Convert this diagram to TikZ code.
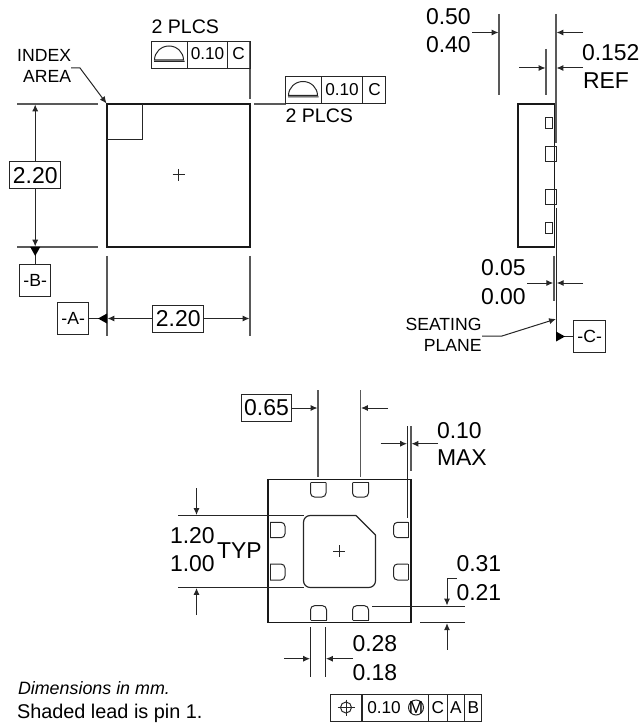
\documentclass[tikz,border=0pt]{standalone}
\usepackage{fontspec}
\setmainfont{Liberation Sans}
\usetikzlibrary{arrows.meta}
\newcommand{\fa}{\fontsize{17.2}{20}\selectfont}
\newcommand{\fb}{\fontsize{14.7}{18}\selectfont}
\newcommand{\fc}{\fontsize{13.2}{16}\selectfont}
\newcommand{\fd}{\fontsize{12.9}{16}\selectfont}
\newcommand{\fe}{\fontsize{14.9}{18}\selectfont}
\newcommand{\ff}{\fontsize{13.4}{16}\selectfont}
\tikzset{
  ln/.style={line width=0.75pt,draw=black!85},
  ext/.style={line width=0.9pt,draw=black!65},
  body/.style={line width=1.1pt,draw=black!90},
  thin/.style={line width=0.75pt,draw=black!85},
  dim/.style={line width=0.75pt,draw=black!85,-{Latex[length=5.2pt,width=4.6pt]}},
  datum/.style={fill=black,draw=none},
  tw/.style={inner sep=0pt,outer sep=0pt,anchor=base west,font=\fa},
  te/.style={inner sep=0pt,outer sep=0pt,anchor=base east,font=\fa},
  cell/.style={draw=black!85,line width=0.75pt,inner sep=0pt,outer sep=0pt,anchor=north west,align=center},
  framebox/.style={draw=black!85,line width=0.75pt,inner sep=0pt,outer sep=0pt},
}
\begin{document}
\begin{tikzpicture}[x=0.75pt,y=-0.75pt]
\useasboundingbox (0,0) rectangle (639,723);
% ---- top view
\draw[body] (107,104) rectangle (250,247);
\draw[ln,line width=0.9pt] (107,139.5) -- (142.5,139.5) -- (142.5,104);
\draw[thin] (172.5,175) -- (184.5,175) (178.5,169) -- (178.5,181);
% ext lines
\draw[ext] (17,104) -- (98,104);
\draw[ext] (17,247) -- (98,247);
\draw[ext] (107,256) -- (107,336);
\draw[ext] (250,256) -- (250,336);
\draw[ext] (250,41.5) -- (250,99);
\draw[ext] (254,104) -- (285.5,104);
% index
\node[te,font=\fc] (idx1) at (71,62) {INDEX};
\node[te,font=\fc] (idx2) at (71,83) {AREA};
\coordinate (idxa) at (71,68);
\coordinate (idxb) at (80,68);
\coordinate (idxc) at (106.5,103.5);
\draw[dim] (idxa) -- (idxb) -- (idxc);
% flatness frame 1
\node[tw,font=\fb] (pl1) at (151.5,34) {2 PLCS};
\node[cell,minimum width=27pt,minimum height=20.25pt] (f1a) at (151.5,41.5) {};
\node[cell,minimum width=30pt,minimum height=20.25pt] (f1b) at (187.5,41.5) {};
\node[cell,minimum width=16.9pt,minimum height=20.25pt] (f1c) at (227.5,41.5) {};
\node[font=\fd,inner sep=0pt] (f1t) at (207.5,54) {0.10};
\node[font=\fd,inner sep=0pt] (f1u) at (238.7,54) {C};
\draw[thin] (154,61.5) -- (184.5,61.5) (154.5,60) arc (180:360:14.5 and 14) -- cycle;
% flatness frame 2
\node[cell,minimum width=27pt,minimum height=20.25pt] (f2a) at (285.5,77) {};
\node[cell,minimum width=30.75pt,minimum height=20.25pt] (f2b) at (321.5,77) {};
\node[cell,minimum width=17.6pt,minimum height=20.25pt] (f2c) at (362.5,77) {};
\node[font=\fd,inner sep=0pt] (f2t) at (342,89.5) {0.10};
\node[font=\fd,inner sep=0pt] (f2u) at (374.5,89.5) {C};
\draw[thin] (288,97) -- (318.5,97) (288.5,95.5) arc (180:360:14.5 and 14) -- cycle;
\node[tw,font=\fb] (pl2) at (285.5,122.5) {2 PLCS};
% vertical 2.20
\node[framebox,minimum width=38.25pt,minimum height=20.25pt,font=\fa] (dv) at (35.2,175.5) {2.20};
\coordinate (dvt) at (35.2,104.5);
\coordinate (dvb) at (35.2,246.5);
\draw[dim] (dv.north) -- (dvt);
\draw[dim] (dv.south) -- (dvb);
% datum B
\node[framebox,minimum width=23.6pt,minimum height=23.8pt,font=\fc] (dB) at (35.2,280.5) {-B-};
\coordinate (dBt) at (35.2,247);
\draw[ln] (dBt) -- (dB.north);
\fill[datum] (30.2,247) -- (40.2,247) -- (35.2,256) -- cycle;
% datum A
\node[framebox,minimum width=23.6pt,minimum height=23.8pt,font=\fc] (dA) at (73.2,318.5) {-A-};
\coordinate (dAt) at (107,318.5);
\draw[ln] (dA.east) -- (dAt);
\fill[datum] (107,313.5) -- (107,323.5) -- (98,318.5) -- cycle;
% horizontal 2.20
\node[framebox,minimum width=38.25pt,minimum height=20.25pt,font=\fa] (dh) at (178.3,318.5) {2.20};
\coordinate (dhl) at (107.5,318.5);
\coordinate (dhr) at (249.5,318.5);
\draw[dim] (dh.west) -- (dhl);
\draw[dim] (dh.east) -- (dhr);
% ---- side view
\draw[body] (554.5,104) -- (518,104) -- (518,247) -- (554.5,247);
\draw[body] (554.5,104) -- (554.5,247);
\draw[ln] (545.7,117.3) rectangle (552.7,129);
\draw[ln] (545.7,146.7) rectangle (556.5,162);
\draw[ln] (545.7,189.3) rectangle (556.5,204.3);
\draw[ln] (545.7,222.3) rectangle (552.7,233.7);
\draw[ext] (499,14) -- (499,95);
\draw[ext] (546,49) -- (546,95);
\draw[ext,line width=1.2pt] (556,14) -- (556,143);
\draw[ln] (556,208) -- (556,341);
\draw[ext,line width=1.2pt] (553.7,256) -- (553.7,300.5);
\node[tw] (t050) at (426,25) {0.50};
\node[tw] (t040) at (426,53) {0.40};
\coordinate (a1s) at (472,32.5); \coordinate (a1e) at (498.5,32.5);
\coordinate (a2s) at (583,32.5); \coordinate (a2e) at (556.5,32.5);
\coordinate (a3s) at (519,68); \coordinate (a3e) at (545.5,68);
\coordinate (a4s) at (583,68); \coordinate (a4e) at (556.5,68);
\draw[dim] (a1s) -- (a1e);
\draw[dim] (a2s) -- (a2e);
\draw[dim] (a3s) -- (a3e);
\draw[dim] (a4s) -- (a4e);
\node[tw] (t0152) at (582,61) {0.152};
\node[tw] (tref) at (583,89) {REF};
\node[tw] (t005) at (481,276) {0.05};
\node[tw] (t000) at (481,304) {0.00};
\coordinate (a5s) at (527,283); \coordinate (a5e) at (553.2,283);
\coordinate (a6s) at (583,283); \coordinate (a6e) at (556.8,283);
\draw[dim] (a5s) -- (a5e);
\draw[dim] (a6s) -- (a6e);
\node[te,font=\fc] (seat) at (481.5,330) {SEATING};
\node[te,font=\fc] (plane) at (481.5,351.5) {PLANE};
\coordinate (sa) at (482,336); \coordinate (sb) at (502,336); \coordinate (sc) at (556,319);
\draw[dim] (sa) -- (sb) -- (sc);
\node[framebox,minimum width=23.6pt,minimum height=23.8pt,font=\fc] (dC) at (589.7,336.5) {-C-};
\coordinate (dCt) at (556,336.5);
\draw[ln] (dC.west) -- (dCt);
\fill[datum] (556,331.5) -- (556,341.5) -- (565,336.5) -- cycle;
% ---- bottom view
\draw[body] (268,479.3) rectangle (411,622.7);
\draw[ext] (318,390) -- (318,477);
\draw[ext] (360.5,390) -- (360.5,477);
\node[framebox,minimum width=37.5pt,minimum height=20.25pt,font=\fa] (d65) at (266.5,408) {0.65};
\coordinate (d65r) at (317.5,408);
\coordinate (a7s) at (388,408); \coordinate (a7e) at (361,408);
\draw[dim] (d65.east) -- (d65r);
\draw[dim] (a7s) -- (a7e);
\draw[ln] (407.5,426) -- (407.5,518);
\draw[ext] (411,426) -- (411,471);
\coordinate (a8s) at (380.5,443.7); \coordinate (a8e) at (407,443.7);
\coordinate (a9s) at (438,443.7); \coordinate (a9e) at (411.5,443.7);
\draw[dim] (a8s) -- (a8e);
\draw[dim] (a9s) -- (a9e);
\node[tw] (t010) at (437,438) {0.10};
\node[tw] (tmax) at (437,465) {MAX};
% leads
\draw[thin,rounded corners=3pt] (310.5,482.5) -- (310.5,497) -- (326,497) -- (326,482.5);
\draw[thin] (310.5,482.5) -- (326,482.5);
\draw[thin,rounded corners=3pt] (352.5,482.5) -- (352.5,497) -- (368.5,497) -- (368.5,482.5);
\draw[thin] (352.5,482.5) -- (368.5,482.5);
\draw[thin,rounded corners=3pt] (310.5,620) -- (310.5,605.7) -- (326.5,605.7) -- (326.5,620);
\draw[thin] (310.5,620) -- (326.5,620);
\draw[thin,rounded corners=3pt] (352.5,620) -- (352.5,605.7) -- (368.5,605.7) -- (368.5,620);
\draw[thin] (352.5,620) -- (368.5,620);
\draw[thin,rounded corners=3pt] (270,522.3) -- (285,522.3) -- (285,537.7) -- (270,537.7);
\draw[thin] (270,522.3) -- (270,537.7);
\draw[thin,rounded corners=3pt] (270,564) -- (285,564) -- (285,580) -- (270,580);
\draw[thin] (270,564) -- (270,580);
\draw[thin,rounded corners=3pt] (408,522.3) -- (393.5,522.3) -- (393.5,537.7) -- (408,537.7);
\draw[thin] (408,522.3) -- (408,537.7);
\draw[thin,rounded corners=3pt] (408,564) -- (393.5,564) -- (393.5,580) -- (408,580);
\draw[thin] (408,564) -- (408,580);
% pad
\draw[line width=0.9pt,draw=black!85,rounded corners=5pt] (356,515.5) -- (303.5,515.5) -- (303.5,587.5) -- (375.5,587.5) -- (375.5,535);
\draw[line width=0.9pt,draw=black!85] (356,515.5) -- (375.5,535);
\draw[thin] (333,551) -- (345,551) (339,545) -- (339,557);
% 1.20/1.00
\draw[ln] (178,515.5) -- (303.5,515.5);
\draw[ln] (178,587.5) -- (303.5,587.5);
\coordinate (a10s) at (196.5,488); \coordinate (a10e) at (196.5,515);
\coordinate (a11s) at (196.5,615); \coordinate (a11e) at (196.5,588);
\draw[dim] (a10s) -- (a10e);
\draw[dim] (a11s) -- (a11e);
\node[tw] (t120) at (170,543) {1.20};
\node[tw] (t100) at (170,571) {1.00};
\node[tw] (ttyp) at (217,558) {TYP};
% 0.31/0.21
\draw[ln] (372,606) -- (465,606);
\draw[ln] (420,622.7) -- (465,622.7);
\coordinate (a12s) at (456.7,578); \coordinate (a12b) at (447,578); \coordinate (a12e) at (447,605.5);
\draw[dim] (a12s) -- (a12b) -- (a12e);
\coordinate (a13s) at (447,649.5); \coordinate (a13e) at (447,623.2);
\draw[dim] (a13s) -- (a13e);
\node[tw] (t031) at (456.5,571) {0.31};
\node[tw] (t021) at (456.5,600) {0.21};
% 0.28/0.18
\draw[ln] (310.5,627) -- (310.5,676.7);
\draw[ln] (325.5,627) -- (325.5,676.7);
\coordinate (a14s) at (284,658.7); \coordinate (a14e) at (310,658.7);
\coordinate (a15s) at (353,658.7); \coordinate (a15e) at (326,658.7);
\draw[dim] (a14s) -- (a14e);
\draw[dim] (a15s) -- (a15e);
\node[tw] (t028) at (352.5,651) {0.28};
\node[tw] (t018) at (352.5,680) {0.18};
% position frame
\node[cell,minimum width=23.6pt,minimum height=20.25pt] (p1) at (330.5,694) {};
\node[cell,minimum width=49.9pt,minimum height=20.25pt] (p2) at (362,694) {};
\node[cell,minimum width=13.9pt,minimum height=20.25pt] (p3) at (428.5,694) {};
\node[cell,minimum width=13.1pt,minimum height=20.25pt] (p4) at (447,694) {};
\node[cell,minimum width=13.1pt,minimum height=20.25pt] (p5) at (464.5,694) {};
\draw[thin] (346,707.5) circle (5.5);
\draw[thin] (337.5,707.5) -- (354.5,707.5) (346,699.5) -- (346,715.5);
\node[font=\fd,inner sep=0pt] (p2t) at (384,707.5) {0.10};
\draw[thin] (416,707.5) circle (7.5);
\node[font=\fd,inner sep=0pt] (p2m) at (416,707.5) {M};
\node[font=\fd,inner sep=0pt] (p3t) at (437.8,707.5) {C};
\node[font=\fd,inner sep=0pt] (p4t) at (455.8,707.5) {A};
\node[font=\fd,inner sep=0pt] (p5t) at (473.3,707.5) {B};
% notes
\node[tw,font=\ff\itshape] (n1) at (18,694) {Dimensions in mm.};
\node[tw,font=\fe] (n2) at (17,718.5) {Shaded lead is pin 1.};
\end{tikzpicture}
\end{document}
